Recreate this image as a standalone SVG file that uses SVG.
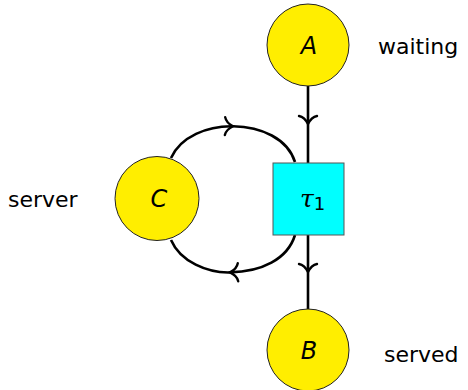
<svg xmlns="http://www.w3.org/2000/svg" width="468" height="390" viewBox="0 0 468 390">
<style>
.place{fill:#FFEE00;stroke:#222;stroke-width:1}
.trans{fill:#00FFFF;stroke:#555;stroke-width:1}
.arc{fill:none;stroke:#000;stroke-width:2.6}
.lbl{font-family:"DejaVu Sans",sans-serif;font-size:22px;fill:#000}
.var{font-family:"DejaVu Sans",sans-serif;font-size:24px;font-style:italic;text-anchor:middle;fill:#000}
.tau{font-family:"DejaVu Serif","Liberation Serif",serif;font-size:25px;font-style:italic;fill:#000}
.sub{font-family:"DejaVu Sans",sans-serif;font-size:18px;fill:#000}
</style>
<defs>
<marker id="to" markerUnits="userSpaceOnUse" viewBox="-12 -12 24 24" markerWidth="24" markerHeight="24" refX="0" refY="0" orient="auto">
<path d="M-8,-9 C-7,-4 -2,-1 0,0 C-2,1 -7,4 -8,9" fill="none" stroke="#000" stroke-width="2.4" stroke-linecap="round"/>
</marker>
</defs>
<g id="connectors">
<path class="arc" d="M308,86 L308,124 L308,163" marker-mid="url(#to)"/>
<path class="arc" d="M308,235 L308,272 L308,309" marker-mid="url(#to)"/>
<path class="arc" d="M171,158 C180.5,136.5 207.75,125.75 233,126.25 C261.25,126.75 287.5,138.5 295,162" marker-mid="url(#to)"/>
<path class="arc" d="M295,235 C287.5,259.5 261.25,271.75 230,272.4 C207.75,273 180.5,262 171,240" marker-mid="url(#to)"/>
</g>
<g id="A">
<circle class="place" cx="308" cy="45" r="41"/>
<text class="var" x="309" y="54">A</text>
</g>
<g id="waiting"><text class="lbl" x="378" y="54">waiting</text></g>
<g id="B">
<circle class="place" cx="308" cy="350" r="41"/>
<text class="var" x="309" y="359">B</text>
</g>
<g id="served"><text class="lbl" x="384" y="362">served</text></g>
<g id="C">
<circle class="place" cx="157" cy="198.5" r="42"/>
<text class="var" x="159" y="207">C</text>
</g>
<g id="server"><text class="lbl" x="8" y="207">server</text></g>
<g id="tau1">
<rect class="trans" x="273" y="163" width="71" height="72"/>
<text x="300" y="207"><tspan class="tau">τ</tspan><tspan class="sub" dy="3">1</tspan></text>
</g>
</svg>
